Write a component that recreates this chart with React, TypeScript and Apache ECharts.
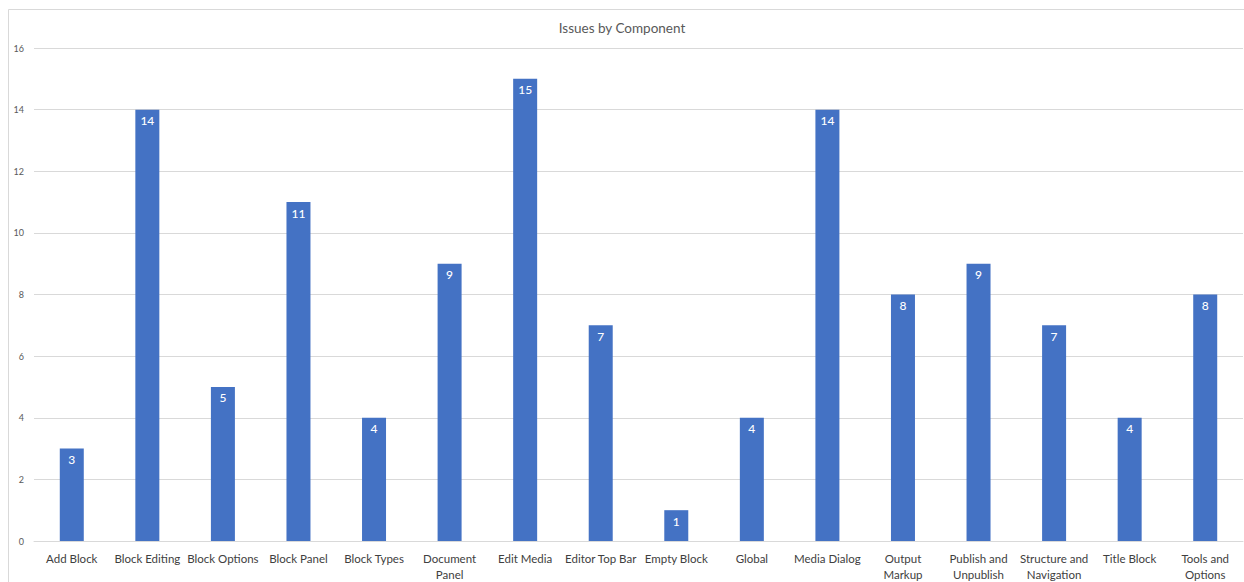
import React, { useEffect, useRef } from "react";
import * as echarts from "echarts";

const categories = [
  "Add Block", "Block Editing", "Block Options", "Block Panel", "Block Types",
  "Document Panel", "Edit Media", "Editor Top Bar", "Empty Block", "Global",
  "Media Dialog", "Output Markup", "Publish and Unpublish", "Structure and Navigation",
  "Title Block", "Tools and Options",
];
const issues = [3, 14, 5, 11, 4, 9, 15, 7, 1, 4, 14, 8, 9, 7, 4, 8];
const wrapped: Record<string, string> = {
  "Document Panel": "Document\nPanel",
  "Output Markup": "Output\nMarkup",
  "Publish and Unpublish": "Publish and\nUnpublish",
  "Structure and Navigation": "Structure and\nNavigation",
  "Tools and Options": "Tools and\nOptions",
};
const titleText = "Issues by Component";

export default function App() {
  const ref = useRef<HTMLDivElement>(null);
  useEffect(() => {
    if (!ref.current) return;
    const chart = echarts.init(ref.current, null, { renderer: "svg" });
    const font = "Lato, 'Noto Sans', sans-serif";
    chart.setOption({
      animation: false,
      backgroundColor: "#ffffff",
      textStyle: { fontFamily: font },
      title: {
        text: titleText,
        left: "center",
        top: 16,
        textStyle: { fontFamily: font, fontSize: 13.5, fontWeight: "normal", color: "#595959" },
      },
      graphic: [
        { type: "line", shape: { x1: 8.5, y1: 9.5, x2: 1244, y2: 9.5 }, style: { stroke: "#d9d9d9", lineWidth: 1 } },
        { type: "line", shape: { x1: 8.5, y1: 9.5, x2: 8.5, y2: 582 }, style: { stroke: "#d9d9d9", lineWidth: 1 } },
      ],
      grid: { left: 34, right: 1, top: 48, bottom: 35, containLabel: false },
      xAxis: {
        type: "category",
        data: categories,
        axisTick: { show: false },
        axisLine: { lineStyle: { color: "#d9d9d9" } },
        axisLabel: {
          interval: 0,
          margin: 9,
          color: "#404040",
          fontSize: 11.5,
          lineHeight: 16,
          fontFamily: font,
          formatter: (v: string) => wrapped[v] || v,
        },
      },
      yAxis: {
        type: "value",
        min: 0,
        max: 16,
        interval: 2,
        axisLabel: { color: "#595959", fontSize: 9, margin: 10, fontFamily: font },
        splitLine: { lineStyle: { color: "#d9d9d9" } },
        axisLine: { show: false },
        axisTick: { show: false },
      },
      series: [
        {
          type: "bar",
          data: issues,
          barWidth: 24,
          itemStyle: { color: "#4472c4" },
          label: {
            show: true,
            position: "insideTop",
            distance: 5,
            color: "#ffffff",
            fontSize: 12,
            fontWeight: 500,
            fontFamily: font,
          },
        },
      ],
    });
    return () => chart.dispose();
  }, []);
  return (
    <div
      ref={ref}
      style={{ position: "fixed", left: 0, top: 0, width: 1244, height: 582 }}
    />
  );
}
